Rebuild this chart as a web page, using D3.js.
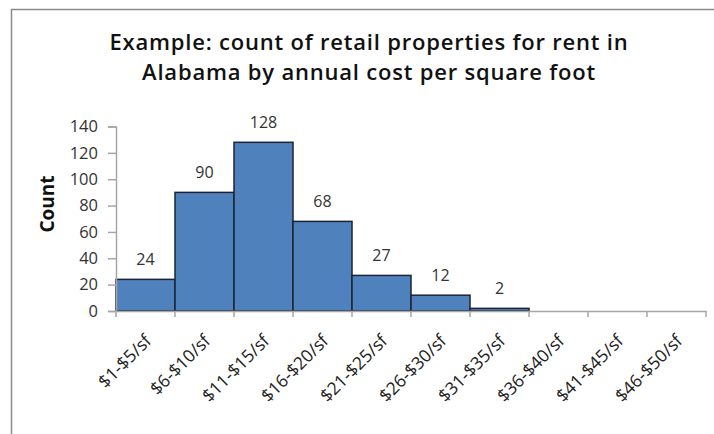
<!DOCTYPE html>
<html><head><meta charset="utf-8">
<script src="https://cdn.jsdelivr.net/npm/d3@7"></script>
<style>html,body{margin:0;padding:0;background:#fff;}svg{display:block;}</style>
</head><body>
<script>
const categories = ["$1-$5/sf","$6-$10/sf","$11-$15/sf","$16-$20/sf","$21-$25/sf","$26-$30/sf","$31-$35/sf","$36-$40/sf","$41-$45/sf","$46-$50/sf"];
const counts = [24, 90, 128, 68, 27, 12, 2, 0, 0, 0];
const yTicks = [0, 20, 40, 60, 80, 100, 120, 140];
const titleLines = ["Example: count of retail properties for rent in", "Alabama by annual cost per square foot"];
const yTitle = "Count";

const W = 714, H = 434;
const svg = d3.select("body").append("svg").attr("width", W).attr("height", H);
const font = "'Open Sans', 'Noto Sans', sans-serif";

svg.append("rect").attr("x", 11.5).attr("y", 9.5).attr("width", 760).attr("height", 480)
  .attr("fill", "#fff").attr("stroke", "#8a8a8a").attr("stroke-width", 1.5);

const x = d3.scaleBand().domain(categories).range([116, 706]).padding(0);
const y = d3.scaleLinear().domain([0, 140]).range([311, 126.5]);

svg.selectAll(".title").data(titleLines).join("text")
  .attr("x", 369).attr("y", (d, i) => 50 + i * 30)
  .attr("text-anchor", "middle").attr("font-family", font).attr("font-weight", 600)
  .attr("font-size", 22).attr("letter-spacing", 0.8).attr("fill", "#111").text(d => d);

// bars
svg.selectAll(".bar").data(counts.map((v, i) => ({c: categories[i], v}))).join("rect")
  .attr("x", d => x(d.c)).attr("width", x.bandwidth())
  .attr("y", d => y(d.v)).attr("height", d => y(0) - y(d.v))
  .attr("fill", "#4F81BD").attr("stroke", "#1b2433").attr("stroke-width", 1.5)
  .attr("display", d => d.v > 0 ? null : "none");

// y axis
const ya = svg.append("g").attr("transform", "translate(116,0)")
  .call(d3.axisLeft(y).tickValues(yTicks).tickSize(8).tickPadding(10));
ya.select(".domain").attr("stroke", "#a6a6a6").attr("stroke-width", 1.5);
ya.selectAll(".tick line").attr("stroke", "#a6a6a6").attr("stroke-width", 1.5);
ya.selectAll(".tick text").attr("font-family", font).attr("font-size", 16.5).attr("fill", "#333");

// x axis line and ticks at band edges
const xa = svg.append("g").attr("transform", `translate(0,${y(0)})`)
  .call(d3.axisBottom(x).tickSize(0).tickFormat(""));
xa.select(".domain").attr("stroke", "#a6a6a6").attr("stroke-width", 1.5);
const edges = categories.map(c => x(c)).concat([x(categories[categories.length - 1]) + x.bandwidth()]);
xa.selectAll(".edge").data(edges).join("line")
  .attr("x1", d => d).attr("x2", d => d).attr("y1", 0).attr("y2", 6)
  .attr("stroke", "#a6a6a6").attr("stroke-width", 1.5);

// x labels
svg.selectAll(".xl").data(categories).join("text")
  .attr("transform", d => `translate(${x(d) + x.bandwidth() / 2 + 7},${y(0) + 31}) rotate(-45)`)
  .attr("text-anchor", "end").attr("font-family", font).attr("font-size", 17.5).attr("fill", "#222")
  .text(d => d);

// value labels
svg.selectAll(".vl").data(counts.map((v, i) => ({c: categories[i], v})).filter(d => d.v > 0)).join("text")
  .attr("x", d => x(d.c) + x.bandwidth() / 2).attr("y", d => y(d.v) - 14)
  .attr("text-anchor", "middle").attr("font-family", font).attr("font-size", 16).attr("fill", "#333")
  .text(d => d.v);

svg.append("text").attr("transform", "translate(54,204) rotate(-90)")
  .attr("text-anchor", "middle").attr("font-family", font).attr("font-weight", 700)
  .attr("font-size", 19).attr("fill", "#111").text(yTitle);
</script>
</body></html>
